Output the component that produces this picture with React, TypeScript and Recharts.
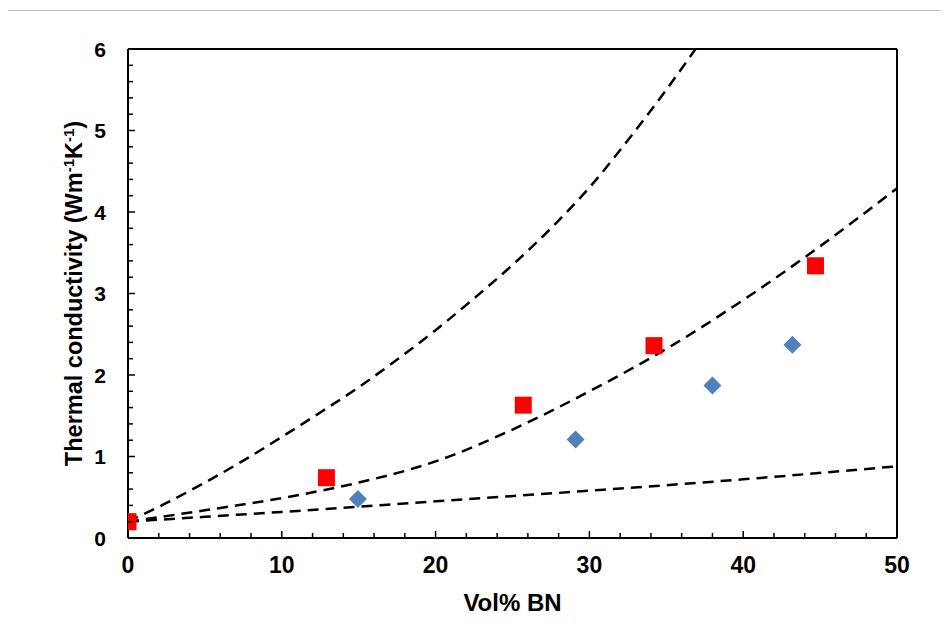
import React from 'react';
import { ComposedChart, Line, Scatter, XAxis, YAxis, ReferenceLine } from 'recharts';

// Measured data (Vol% BN, thermal conductivity)
const redX = [0, 12.9, 25.7, 34.2, 44.7];
const redY = [0.2, 0.74, 1.63, 2.36, 3.34];
const blueX = [14.95, 29.1, 38.0, 43.2];
const blueY = [0.48, 1.21, 1.87, 2.37];

// Model curves
const upperX = [0, 2.5, 5, 7.5, 10, 12.5, 15, 17.5, 20, 22.5, 25, 27.5, 30, 32.5, 35, 36.9];
const upperY = [0.2, 0.43, 0.68, 0.95, 1.24, 1.54, 1.85, 2.19, 2.55, 2.94, 3.35, 3.8, 4.3, 4.88, 5.5, 6.0];
const middleX = [0, 5, 10, 15, 20, 25, 30, 35, 40, 45, 50];
const middleY = [0.2, 0.34, 0.49, 0.68, 0.94, 1.33, 1.8, 2.32, 2.92, 3.58, 4.29];
const lowerX = [0, 5, 10, 20, 30, 40, 50];
const lowerY = [0.2, 0.26, 0.32, 0.45, 0.58, 0.72, 0.88];

const xTicks = [0, 2, 4, 6, 8, 10, 12, 14, 16, 18, 20, 22, 24, 26, 28, 30, 32, 34, 36, 38, 40, 42, 44, 46, 48, 50];
const yTicks = [0, 0.2, 0.4, 0.6, 0.8, 1, 1.2, 1.4, 1.6, 1.8, 2, 2.2, 2.4, 2.6, 2.8, 3, 3.2, 3.4, 3.6, 3.8, 4, 4.2, 4.4, 4.6, 4.8, 5, 5.2, 5.4, 5.6, 5.8, 6];

const zip = (xs: number[], ys: number[]) => xs.map((x, i) => ({ x, y: ys[i] }));
const redData = zip(redX, redY);
const blueData = zip(blueX, blueY);
const upperData = zip(upperX, upperY);
const middleData = zip(middleX, middleY);
const lowerData = zip(lowerX, lowerY);

const FONT = 'Liberation Sans, Arial, sans-serif';

const XTick = (props: any) => {
  const { x, y, payload } = props;
  const v = payload.value;
  const major = Math.abs(v % 10) < 1e-6;
  return (
    <g>
      <line x1={x} y1={y} x2={x} y2={y - (major ? 7 : 5)} stroke="#000" strokeWidth={1.5} />
      {major && (
        <text x={x} y={y + 35} textAnchor="middle" fontFamily={FONT} fontWeight="bold" fontSize={23} fill="#000">
          {v}
        </text>
      )}
    </g>
  );
};

const YTick = (props: any) => {
  const { x, y, payload } = props;
  const v = payload.value;
  const major = Math.abs(v - Math.round(v)) < 1e-6;
  return (
    <g>
      <line x1={x} y1={y} x2={x + (major ? 7 : 5)} y2={y} stroke="#000" strokeWidth={1.5} />
      {major && (
        <text x={x - 22} y={y + 7.5} textAnchor="end" fontFamily={FONT} fontWeight="bold" fontSize={21} fill="#000">
          {Math.round(v)}
        </text>
      )}
    </g>
  );
};

const Square = (props: any) => {
  const { cx, cy } = props;
  return <rect x={cx - 8.5} y={cy - 8.5} width={17} height={17} fill="#FF0000" />;
};

const Diamond = (props: any) => {
  const { cx, cy } = props;
  const r = 9;
  return <polygon points={`${cx},${cy - r} ${cx + r},${cy} ${cx},${cy + r} ${cx - r},${cy}`} fill="#4F81BD" />;
};

const XTitle = (props: any) => {
  const vb = props.viewBox;
  return (
    <text x={vb.x + vb.width / 2} y={vb.y + 72.5} textAnchor="middle" fontFamily={FONT} fontWeight="bold" fontSize={24} fill="#000">
      Vol% BN
    </text>
  );
};

const YTitle = (props: any) => {
  const vb = props.viewBox;
  const cx = vb.x + 73.5;
  const cy = vb.y + vb.height / 2;
  return (
    <text x={cx} y={cy} transform={`rotate(-90 ${cx} ${cy})`} textAnchor="middle" fontFamily={FONT} fontWeight="bold" fontSize={23.5} fill="#000">
      Thermal conductivity (Wm
      <tspan dy={-8} fontSize={15}>-1</tspan>
      <tspan dy={8}>K</tspan>
      <tspan dy={-8} fontSize={15}>-1</tspan>
      <tspan dy={8}>)</tspan>
    </text>
  );
};

export default function App() {
  return (
    <div
      style={{
        position: 'relative',
        width: 941,
        height: 619,
        marginLeft: -1,
        marginTop: 2,
        borderTop: '1px solid #bdbdbd',
        borderLeft: '1px solid #bdbdbd',
        background: '#fff',
      }}
    >
      <ComposedChart width={941} height={619} margin={{ top: 38, right: 52, left: 0, bottom: 62 }}>
        <XAxis
          type="number"
          dataKey="x"
          domain={[0, 50]}
          ticks={xTicks}
          interval={0}
          tickSize={0}
          tickMargin={0}
          tickLine={false}
          tick={<XTick />}
          axisLine={{ stroke: '#000', strokeWidth: 2 }}
          height={30}
          allowDataOverflow
          label={{ content: <XTitle /> }}
        />
        <YAxis
          type="number"
          dataKey="y"
          domain={[0, 6]}
          ticks={yTicks}
          interval={0}
          tickSize={0}
          tickMargin={0}
          tickLine={false}
          tick={<YTick />}
          axisLine={{ stroke: '#000', strokeWidth: 2 }}
          width={120}
          allowDataOverflow
          label={{ content: <YTitle /> }}
        />
        <ReferenceLine y={6} stroke="#000" strokeWidth={2} ifOverflow="visible" />
        <ReferenceLine x={50} stroke="#000" strokeWidth={2} ifOverflow="visible" />
        <Scatter data={redData} dataKey="y" shape={<Square />} isAnimationActive={false} />
        <Scatter data={blueData} dataKey="y" shape={<Diamond />} isAnimationActive={false} />
        <Line data={upperData} dataKey="y" type="monotone" stroke="#000" strokeWidth={2.5} strokeDasharray="11 7" dot={false} activeDot={false} isAnimationActive={false} />
        <Line data={middleData} dataKey="y" type="monotone" stroke="#000" strokeWidth={2.5} strokeDasharray="11 7" dot={false} activeDot={false} isAnimationActive={false} />
        <Line data={lowerData} dataKey="y" type="monotone" stroke="#000" strokeWidth={2.5} strokeDasharray="11 7" dot={false} activeDot={false} isAnimationActive={false} />
      </ComposedChart>
    </div>
  );
}
